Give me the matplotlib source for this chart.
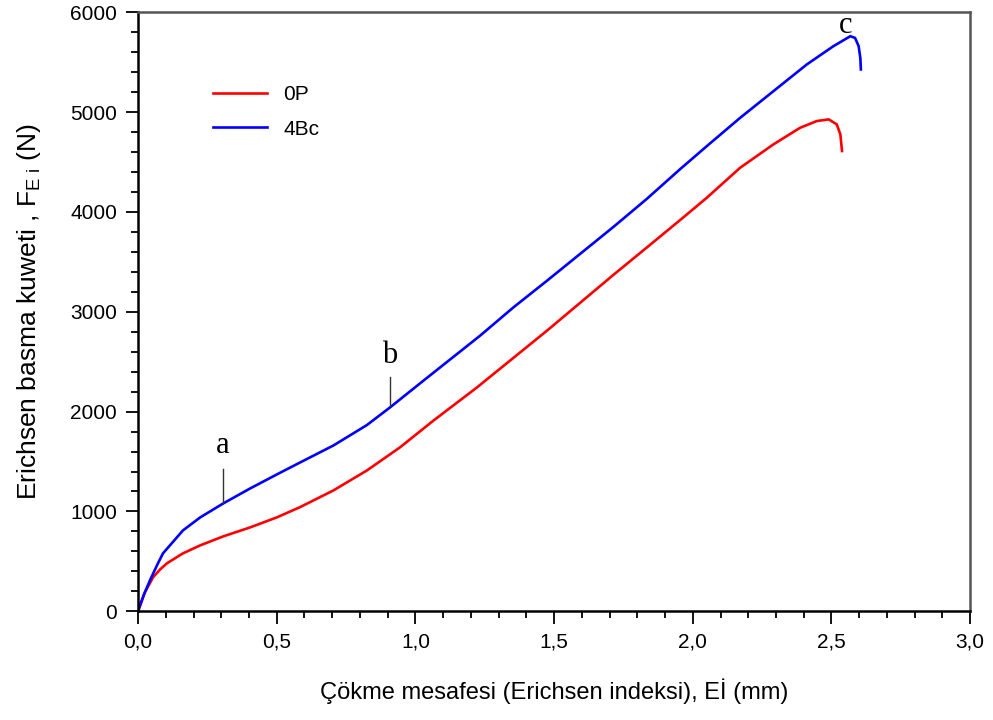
import numpy as np
import matplotlib.pyplot as plt
from matplotlib.ticker import MultipleLocator, FuncFormatter

# 0P curve (red)
x_0p = [0.0, 0.025, 0.054, 0.08, 0.104, 0.162, 0.224, 0.307, 0.404, 0.5, 0.584,
        0.704, 0.825, 0.945, 1.065, 1.221, 1.474, 1.594, 1.714, 1.834, 1.955,
        2.051, 2.171, 2.291, 2.387, 2.447, 2.49, 2.519, 2.532, 2.538]
y_0p = [0, 190, 340, 420, 480, 580, 660, 750, 840, 940, 1043,
        1210, 1410, 1643, 1910, 2240, 2810, 3090, 3370, 3643, 3920,
        4143, 4443, 4677, 4843, 4910, 4927, 4877, 4777, 4610]

# 4Bc curve (blue)
x_4bc = [0.0, 0.02, 0.043, 0.07, 0.09, 0.115, 0.162, 0.224, 0.307, 0.404, 0.5,
         0.584, 0.704, 0.825, 0.909, 1.029, 1.233, 1.353, 1.474, 1.594, 1.714,
         1.834, 1.955, 2.051, 2.171, 2.291, 2.411, 2.507, 2.568, 2.585, 2.598,
         2.604, 2.606]
y_4bc = [0, 160, 310, 470, 580, 660, 810, 940, 1080, 1230, 1370,
         1490, 1660, 1865, 2043, 2310, 2760, 3043, 3310, 3580, 3850,
         4130, 4430, 4660, 4943, 5210, 5477, 5660, 5760, 5743, 5660,
         5543, 5427]

# annotation letters: (label, x, tick bottom, tick top, text y)
notes = [("a", 0.307, 1080, 1430, 1660),
         ("b", 0.909, 2060, 2350, 2560),
         ("c", 2.55, None, None, 5870)]

plt.rcParams['font.family'] = ['Liberation Sans', 'DejaVu Sans']
plt.rcParams['mathtext.default'] = 'regular'

fig = plt.figure(figsize=(9.93, 7.2), dpi=100)
ax = fig.add_axes([0.139, 0.151, 0.838, 0.832])

ax.plot(x_0p, y_0p, color='#ff0000', lw=1.9, label='0P')
ax.plot(x_4bc, y_4bc, color='#0000ff', lw=1.9, label='4Bc')

for lab, xx, y0, y1, ty in notes:
    if y0 is not None:
        ax.plot([xx, xx], [y0, y1], color='#333333', lw=1.0)
    ax.text(xx, ty, lab, family=['Liberation Serif'], fontsize=22,
            ha='center', va='center', color='black')

ax.set_xlim(0, 3.0)
ax.set_ylim(0, 6000)
ax.xaxis.set_major_locator(MultipleLocator(0.5))
ax.xaxis.set_minor_locator(MultipleLocator(0.1))
ax.yaxis.set_major_locator(MultipleLocator(1000))
ax.yaxis.set_minor_locator(MultipleLocator(200))
ax.xaxis.set_major_formatter(FuncFormatter(lambda v, p: f"{v:.1f}".replace('.', ',')))

ax.tick_params(which='major', direction='out', length=9, width=1.3, labelsize=15, pad=6)
ax.tick_params(which='minor', direction='out', length=5, width=1.3)
ax.tick_params(top=False, right=False)

for s in ['left', 'bottom']:
    ax.spines[s].set_linewidth(1.8)
    ax.spines[s].set_color('black')
for s in ['top', 'right']:
    ax.spines[s].set_linewidth(1.8)
    ax.spines[s].set_color('#555555')

ax.set_xlabel("Çökme mesafesi (Erichsen indeksi), Eİ (mm)", fontsize=17, labelpad=20)
ax.set_ylabel("Erichsen basma kuweti , F$_{E\\ i}$ (N)", fontsize=19, labelpad=20)

ax.legend(loc='upper left', bbox_to_anchor=(0.067, 0.91), frameon=False, fontsize=15,
          handlelength=2.6, handletextpad=0.8, labelspacing=0.75)

fig.savefig("out.png", dpi=100)
